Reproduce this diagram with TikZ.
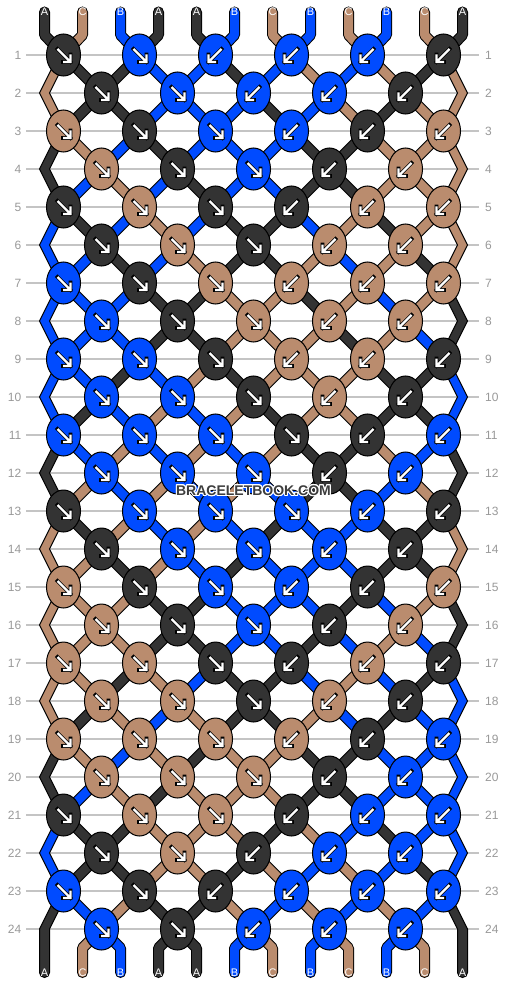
\documentclass[tikz,border=0pt]{standalone}
\usepackage{fontspec}
\setmainfont{Liberation Sans}
\usepackage{contour}
\contourlength{1pt}
\usetikzlibrary{shapes.geometric}
\pgfdeclarelayer{background}
\pgfsetlayers{background,main}
\definecolor{strA}{HTML}{333333}
\definecolor{strB}{HTML}{004BFF}
\definecolor{strC}{HTML}{BA8C6E}
\definecolor{gridgray}{HTML}{C4C4C4}
\definecolor{numgray}{HTML}{999999}
\definecolor{markgray}{HTML}{3D3D3D}
\tikzset{knot/.style={ellipse, draw=black, line width=1pt, fill=#1, minimum width=34pt, minimum height=42pt, inner sep=0pt},
  strand/.style={draw=black, line width=1pt, double=#1, double distance=9pt, line cap=round, line join=round},
  edgestrand/.style={draw=black, line width=1pt, fill=#1, line join=miter},
  arrowline/.style={draw=white, line width=2.2pt, line join=miter, preaction={draw=black, line width=3.6pt, line cap=rect}},
  knotarrow/.pic={\draw[arrowline] (-6,6) -- (7,-7) (7,0.5) -- (7,-7) -- (-0.5,-7);},
  strlabel/.style={text=white, font=\fontsize{11}{11}\selectfont, inner sep=0pt},
  rownum/.style={text=numgray, font=\fontsize{12}{12}\selectfont, inner ysep=0pt},
  rowline/.style={draw=gridgray, line width=1.3pt}}

\begin{document}
\begin{tikzpicture}[x=1pt, y=1pt]
    \useasboundingbox (0,0) rectangle (506,-984);
    \begin{pgfonlayer}{background}
        \fill[white] (0,0) rectangle (506,-984);
    \end{pgfonlayer}

    \foreach \rw in {1,...,24} {
        \node[rownum, anchor=east, inner xsep=4.5pt] (ln-\rw) at (26,-17-38*\rw) {\rw};
        \node[rownum, anchor=west, inner xsep=6pt] (rn-\rw) at (479,-17-38*\rw) {\rw};
        \begin{pgfonlayer}{background}
            \draw[rowline] (ln-\rw) -- (rn-\rw);
        \end{pgfonlayer}
    }

    \foreach \rw/\row in {1/{A/R,B/R,B/L,B/L,B/L,A/L}, 2/{A/R,B/R,B/L,B/L,A/L},
        3/{C/R,A/R,B/R,B/L,A/L,C/L}, 4/{C/R,A/R,B/R,A/L,C/L},
        5/{A/R,C/R,A/R,A/L,C/L,C/L}, 6/{A/R,C/R,A/R,C/L,C/L},
        7/{B/R,A/R,C/R,C/L,C/L,C/L}, 8/{B/R,A/R,C/R,C/L,C/L},
        9/{B/R,B/R,A/R,C/L,C/L,A/L}, 10/{B/R,B/R,A/R,C/L,A/L},
        11/{B/R,B/R,B/R,A/R,A/L,B/L}, 12/{B/R,B/R,B/R,A/L,B/L},
        13/{A/R,B/R,B/R,B/R,B/L,A/L}, 14/{A/R,B/R,B/R,B/L,A/L},
        15/{C/R,A/R,B/R,B/L,A/L,C/L}, 16/{C/R,A/R,B/R,A/L,C/L},
        17/{C/R,C/R,A/R,A/L,C/L,A/L}, 18/{C/R,C/R,A/R,C/L,A/L},
        19/{C/R,C/R,C/R,C/L,A/L,B/L}, 20/{C/R,C/R,C/R,A/L,B/L},
        21/{A/R,C/R,C/R,A/L,B/L,B/L}, 22/{A/R,C/R,A/L,B/L,B/L},
        23/{B/R,A/R,A/L,B/L,B/L,B/L}, 24/{B/R,A/R,B/L,B/L,B/L}} {
        \ifodd\rw\relax\else
            \coordinate (k-\rw-0) at (44.5,-17-38*\rw);
            \coordinate (k-\rw-11) at (462.5,-17-38*\rw);
        \fi
        \foreach \kc/\kd [count=\ki from 0] in \row {
            \pgfmathtruncatemacro\q{2*\ki+1-mod(\rw,2)}
            \if\kd R\def\sx{1}\else\def\sx{-1}\fi
            \node[knot=str\kc] (k-\rw-\q) at (63.5+38*\q,-17-38*\rw) {};
            \pic[xscale=\sx] at (k-\rw-\q) {knotarrow};
        }
    }

    \foreach \s [count=\p from 0] in {A,C,B,A,A,B,C,B,C,B,C,A} {
        \pgfmathtruncatemacro\q{\p-mod(\p,2)}
        \node[strlabel] (top-\p) at (44.5+38*\p,-12) {\s};
        \coordinate (tb-\p) at (44.5+38*\p,-35);
        \begin{pgfonlayer}{background}
            \draw[strand=str\s] (top-\p.center) -- (tb-\p) -- (k-1-\q.center);
        \end{pgfonlayer}
    }

    \foreach \s [count=\p from 0] in {A,C,B,A,A,B,C,B,C,B,C,A} {
        \node[strlabel] (bot-\p) at (44.5+38*\p,-972.5) {\s};
        \ifnum\p>0 \ifnum\p<11
            \pgfmathtruncatemacro\q{\p-mod(\p+1,2)}
            \coordinate (bb-\p) at (44.5+38*\p,-948);
            \begin{pgfonlayer}{background}
                \draw[strand=str\s] (k-24-\q.center) -- (bb-\p) -- (bot-\p.center);
            \end{pgfonlayer}
        \fi\fi
    }

    \begin{pgfonlayer}{background}
    \foreach \rw/\st in {1/{C,A,A,B,B,A,B,C,B,C,A,C}, 2/{C,A,A,B,B,B,A,B,C,A,C,C},
        3/{A,C,B,A,B,B,B,A,A,C,C,C}, 4/{A,B,C,B,A,B,B,A,A,C,C,C},
        5/{B,A,B,C,B,A,A,B,C,A,C,C}, 6/{B,B,A,B,C,A,A,C,B,C,A,C},
        7/{B,B,B,A,A,C,C,A,C,B,C,A}, 8/{B,B,B,A,A,C,C,C,A,C,B,A},
        9/{B,B,A,B,C,A,C,C,C,A,A,B}, 10/{B,A,B,C,B,C,A,C,C,A,A,B},
        11/{A,B,C,B,C,B,C,A,A,C,B,A}, 12/{A,C,B,C,B,C,B,A,A,B,C,A},
        13/{C,A,C,B,C,B,A,B,B,A,A,C}, 14/{C,C,A,C,B,A,B,B,B,A,A,C},
        15/{C,C,C,A,A,B,B,B,A,B,C,A}, 16/{C,C,C,A,A,B,B,A,B,C,B,A},
        17/{C,C,A,C,B,A,A,B,C,B,A,B}, 18/{C,A,C,B,C,A,A,C,B,A,B,B},
        19/{A,C,B,C,A,C,C,A,A,B,B,B}, 20/{A,B,C,A,C,C,C,A,A,B,B,B},
        21/{B,A,A,C,C,C,A,C,B,A,B,B}, 22/{B,A,A,C,C,A,C,B,C,B,A,B},
        23/{A,B,C,A,A,C,B,C,B,C,B,A}} {
        \pgfmathtruncatemacro\rn{\rw+1}
        \foreach \s [count=\p from 0] in \st {
            \ifnum\p>0 \ifnum\p<11
                \pgfmathtruncatemacro\qa{\p-mod(\p+1-mod(\rw,2),2)}
                \pgfmathtruncatemacro\qb{\p-mod(\p+1-mod(\rn,2),2)}
                \draw[strand=str\s] (k-\rw-\qa.center) -- (k-\rn-\qb.center);
            \fi\fi
        }
    }

    \foreach \rw/\colL/\colR in {2/C/C, 4/A/C, 6/B/C, 8/B/A, 10/B/B, 12/A/A,
        14/C/C, 16/C/A, 18/C/B, 20/A/B, 22/B/B} {
        \pgfmathtruncatemacro\rp{\rw-1}
        \pgfmathtruncatemacro\rn{\rw+1}
        \filldraw[edgestrand=str\colL] ([xshift=-5pt]k-\rp-0.center) -- ([xshift=-5pt]k-\rw-0)
            -- ([xshift=-5pt]k-\rn-0.center) -- ([xshift=5pt]k-\rn-0.center)
            -- ([xshift=5pt]k-\rw-0) -- ([xshift=5pt]k-\rp-0.center) -- cycle;
        \filldraw[edgestrand=str\colR] ([xshift=-5pt]k-\rp-10.center) -- ([xshift=-5pt]k-\rw-11)
            -- ([xshift=-5pt]k-\rn-10.center) -- ([xshift=5pt]k-\rn-10.center)
            -- ([xshift=5pt]k-\rw-11) -- ([xshift=5pt]k-\rp-10.center) -- cycle;
    }
    \filldraw[edgestrand=strA] ([xshift=-5pt]k-23-0.center) -- ([xshift=-5pt]k-24-0)
        -- ([xshift=-5pt]bot-0.center) arc[start angle=180, end angle=360, radius=5pt]
        -- ([xshift=5pt]k-24-0) -- ([xshift=5pt]k-23-0.center) -- cycle;
    \filldraw[edgestrand=strA] ([xshift=-5pt]k-23-10.center) -- ([xshift=-5pt]k-24-11)
        -- ([xshift=-5pt]bot-11.center) arc[start angle=180, end angle=360, radius=5pt]
        -- ([xshift=5pt]k-24-11) -- ([xshift=5pt]k-23-10.center) -- cycle;
    \end{pgfonlayer}

    \node[text=markgray, font=\bfseries\fontsize{14}{14}\selectfont] (mark) at (253.5,-491) {\contour{white}{BRACELETBOOK.COM}};
\end{tikzpicture}
\end{document}
